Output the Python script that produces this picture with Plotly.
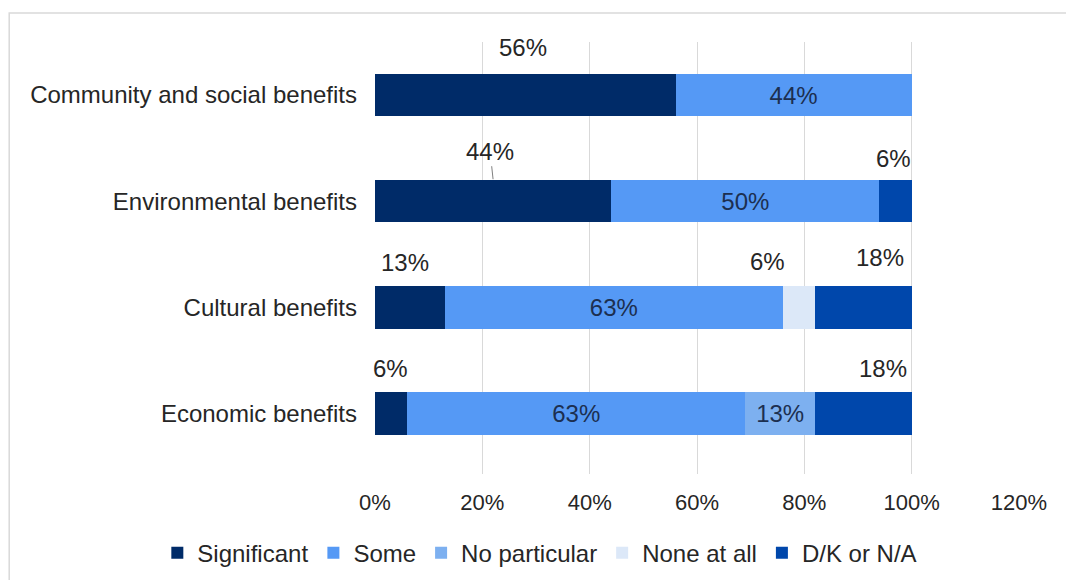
import plotly.graph_objects as go

categories = ["Community and social benefits", "Environmental benefits", "Cultural benefits", "Economic benefits"]
series_names = ["Significant", "Some", "No particular", "None at all", "D/K or N/A"]
significant = [56, 44, 13, 6]
some = [44, 50, 63, 63]
no_particular = [0, 0, 0, 13]
none_at_all = [0, 0, 6, 0]
dk_na = [0, 6, 18, 18]
tick_vals = [0, 20, 40, 60, 80, 100, 120]
tick_text = ["0%", "20%", "40%", "60%", "80%", "100%", "120%"]

series_values = [significant, some, no_particular, none_at_all, dk_na]
colors = ["#002B68", "#5599F5", "#7DB0F0", "#DCE8F8", "#0047AB"]
inside = [False, True, True, False, False]

FONT = "Liberation Sans, Arial, sans-serif"
TXT = "#262626"
fig = go.Figure()
for name, vals, col, ins in zip(series_names, series_values, colors, inside):
    txt = [f"{v}%" if (ins and v > 0) else "" for v in vals]
    fig.add_trace(go.Bar(
        name=name, y=categories, x=vals, orientation="h",
        marker=dict(color=col, line=dict(width=0)),
        text=txt, textposition="inside", insidetextanchor="middle",
        textangle=0,
        textfont=dict(family=FONT, size=24, color="#1C2F50"),
        constraintext="none",
        hoverinfo="skip",
    ))

# outside labels (pixel offsets from segment centre)
offsets = {
    (0, 0): (-2, 48), (4, 1): (-2, 43),
    (0, 2): (-5, 45), (3, 2): (-31, 46), (4, 2): (17, 50),
    (0, 3): (-1, 45), (4, 3): (20, 45),
}
annotations = []
for si in [0, 3, 4]:
    for ci, cat in enumerate(categories):
        v = series_values[si][ci]
        if v <= 0:
            continue
        start = sum(series_values[k][ci] for k in range(si))
        xc = start + v / 2
        key = (si, ci)
        if key == (0, 1):
            annotations.append(dict(
                x=xc, y=cat, xref="x", yref="y", text=f"{v}%",
                showarrow=True, arrowhead=0, arrowwidth=1, arrowcolor="#7F7F7F",
                ax=-3, ay=-28, yshift=22, standoff=0,
                font=dict(family=FONT, size=24, color=TXT)))
        else:
            dx, dy = offsets[key]
            annotations.append(dict(
                x=xc, y=cat, xref="x", yref="y", text=f"{v}%",
                showarrow=False, xshift=dx, yshift=dy,
                font=dict(family=FONT, size=24, color=TXT)))

fig.update_layout(
    width=1074, height=580,
    margin=dict(l=367, r=63, t=34, b=114, autoexpand=False),
    barmode="stack", bargap=0.6,
    plot_bgcolor="white", paper_bgcolor="white",
    font=dict(family=FONT, size=22, color=TXT),
    showlegend=True,
    legend=dict(orientation="h", x=-0.338, xanchor="left",
                y=-0.183, yanchor="middle",
                font=dict(family=FONT, size=24, color=TXT),
                traceorder="normal", itemwidth=30, itemsizing="constant"),
    annotations=annotations,
    shapes=[dict(type="rect", xref="paper", yref="paper",
                 x0=-0.568, x1=1.2, y0=-0.3, y1=1.067,
                 line=dict(color="#D9D9D9", width=1.5), fillcolor="rgba(0,0,0,0)", layer="below")],
)
fig.update_xaxes(range=[0, 120], tickvals=tick_vals, ticktext=tick_text,
                 showgrid=True, gridcolor="#D9D9D9", gridwidth=1, zeroline=False,
                 showline=False, ticks="", ticklabelstandoff=13, tickangle=0,
                 tickfont=dict(family=FONT, size=22, color=TXT))
fig.update_yaxes(categoryorder="array", categoryarray=categories, autorange="reversed",
                 showgrid=False, zeroline=False, showline=False, ticks="",
                 ticklabelstandoff=17,
                 tickfont=dict(family=FONT, size=24, color=TXT))

fig.write_html("out.html")
